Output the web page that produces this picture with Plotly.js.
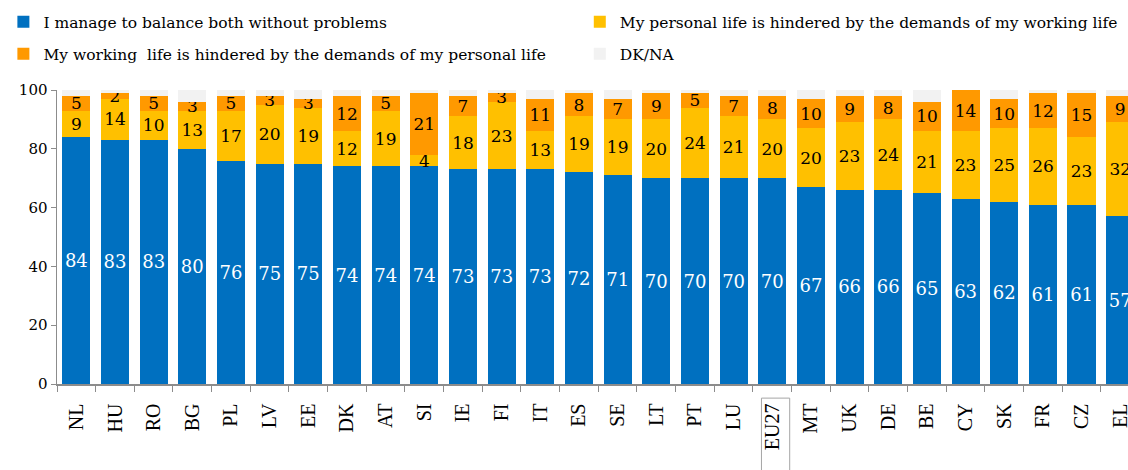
<!DOCTYPE html>
<html>
<head>
<meta charset="utf-8">
<script src="https://cdn.plot.ly/plotly-3.0.1.min.js"></script>
<style>
  html, body { margin: 0; padding: 0; background: #ffffff; overflow: hidden; }
  #chart { width: 1128px; height: 470px; }
</style>
</head>
<body>
<div id="chart"></div>
<script>
var countries = ["NL","HU","RO","BG","PL","LV","EE","DK","AT","SI","IE","FI","IT","ES","SE","LT","PT","LU","EU27","MT","UK","DE","BE","CY","SK","FR","CZ","EL"];
var balance   = [84,83,83,80,76,75,75,74,74,74,73,73,73,72,71,70,70,70,70,67,66,66,65,63,62,61,61,57];
var personalHindered = [9,14,10,13,17,20,19,12,19,4,18,23,13,19,19,20,24,21,20,20,23,24,21,23,25,26,23,32];
var workingHindered  = [5,2,5,3,5,3,3,12,5,21,7,3,11,8,7,9,5,7,8,10,9,8,10,14,10,12,15,9];
var dkna = [2,1,2,4,2,2,3,2,2,1,2,1,3,1,3,1,1,2,2,3,2,2,4,0,3,1,1,2];

var seriesNames = [
  "I manage to balance both without problems",
  "My personal life is hindered by the demands of my working life",
  "My working  life is hindered by the demands of my personal life",
  "DK/NA"
];

var FONT = "DejaVu Serif, Georgia, serif";

function barTrace(vals, name, color, textColor, textSize, legendId, showText) {
  return {
    type: "bar",
    x: countries,
    y: vals,
    name: name,
    legend: legendId,
    marker: { color: color, line: { width: 0 } },
    text: showText ? vals.map(String) : null,
    textposition: showText ? "inside" : "none",
    insidetextanchor: "middle",
    textangle: 0,
    constraintext: "none",
    cliponaxis: false,
    textfont: { family: FONT, size: textSize, color: textColor },
    hoverinfo: "x+y+name"
  };
}

var data = [
  barTrace(balance, seriesNames[0], "#0070C0", "#ffffff", 18, "legend", true),
  barTrace(personalHindered, seriesNames[1], "#FFC000", "#000000", 17, "legend2", true),
  barTrace(workingHindered, seriesNames[2], "#FF9900", "#000000", 17, "legend3", true),
  barTrace(dkna, seriesNames[3], "#F2F2F2", "#000000", 17, "legend4", false)
];

function legendAt(x, y) {
  return {
    orientation: "v",
    xref: "container", yref: "container",
    x: x, y: y, xanchor: "left", yanchor: "top",
    font: { family: FONT, size: 15.5, color: "#000000" },
    bgcolor: "rgba(0,0,0,0)",
    borderwidth: 0
  };
}

var layout = {
  width: 1128,
  height: 470,
  margin: { l: 57, r: 0, t: 90, b: 86, autoexpand: false },
  paper_bgcolor: "#ffffff",
  plot_bgcolor: "#ffffff",
  barmode: "stack",
  bargap: 0.27,
  font: { family: FONT, color: "#000000" },
  showlegend: true,
  legend: legendAt(0.003, 0.989),
  legend2: legendAt(0.514, 0.989),
  legend3: legendAt(0.003, 0.921),
  legend4: legendAt(0.514, 0.921),
  xaxis: {
    type: "category",
    range: [-0.5, 27.2],
    showline: true,
    linecolor: "#8c8c8c",
    linewidth: 1.5,
    ticks: "outside",
    tickson: "boundaries",
    ticklen: 6,
    tickcolor: "#8c8c8c",
    tickwidth: 1,
    tickangle: -90,
    ticklabelstandoff: 10,
    tickfont: { family: "Liberation Serif, serif", size: 20, color: "#000000" },
    showgrid: false,
    zeroline: false,
    automargin: false,
    fixedrange: true
  },
  yaxis: {
    range: [0, 100],
    tickvals: [0, 20, 40, 60, 80, 100],
    showline: true,
    linecolor: "#8c8c8c",
    linewidth: 1.5,
    ticks: "outside",
    ticklen: 5,
    tickcolor: "#8c8c8c",
    tickwidth: 1,
    tickfont: { family: FONT, size: 15, color: "#000000" },
    showgrid: false,
    zeroline: false,
    automargin: false,
    fixedrange: true
  },
  shapes: [
    {
      type: "rect",
      xref: "x", yref: "paper",
      x0: 17.72, x1: 18.45,
      y0: -0.048, y1: -0.32,
      line: { color: "#a6a6a6", width: 1 },
      fillcolor: "rgba(0,0,0,0)",
      layer: "above"
    }
  ]
};

Plotly.newPlot("chart", data, layout, { displayModeBar: false, staticPlot: true });
</script>
</body>
</html>
